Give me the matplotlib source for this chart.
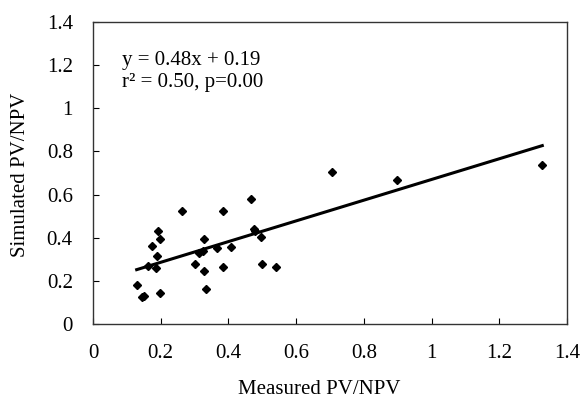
import matplotlib
matplotlib.use("Agg")
import matplotlib.pyplot as plt
import numpy as np

measured = [0.129, 0.144, 0.151, 0.161, 0.175, 0.185, 0.189, 0.191, 0.199, 0.198,
            0.263, 0.300, 0.312, 0.324, 0.328, 0.327, 0.333, 0.367, 0.385, 0.385,
            0.408, 0.467, 0.475, 0.478, 0.497, 0.498, 0.540, 0.705, 0.899, 1.327]
simulated = [0.181, 0.124, 0.131, 0.269, 0.363, 0.260, 0.315, 0.431, 0.396, 0.145,
             0.522, 0.277, 0.331, 0.340, 0.393, 0.246, 0.161, 0.354, 0.525, 0.263,
             0.356, 0.578, 0.439, 0.431, 0.402, 0.278, 0.264, 0.706, 0.666, 0.737]
slope, intercept = 0.48, 0.19
xticks = [0, 0.2, 0.4, 0.6, 0.8, 1, 1.2, 1.4]
xticklabels = ["0", "0.2", "0.4", "0.6", "0.8", "1", "1.2", "1.4"]
yticks = [0, 0.2, 0.4, 0.6, 0.8, 1, 1.2, 1.4]
yticklabels = ["0", "0.2", "0.4", "0.6", "0.8", "1", "1.2", "1.4"]

plt.rcParams['font.family'] = ['Liberation Serif', 'DejaVu Serif']
fs = 15

fig = plt.figure(figsize=(5.84, 4.03), dpi=100)
ax = fig.add_axes([93/584, 1-324/403, (567-93)/584, (324-22)/403])

ax.plot(measured, simulated, linestyle='none', marker='D', markersize=4.5,
        color='black', zorder=3)
xl = np.array([min(measured), max(measured)])
ax.plot(xl, slope*xl + intercept, color='black', linewidth=2.2, zorder=2)

ax.set_xlim(0, 1.4)
ax.set_ylim(0, 1.4)
ax.set_xticks(xticks)
ax.set_xticklabels(xticklabels)
ax.set_yticks(yticks)
ax.set_yticklabels(yticklabels)
ax.tick_params(direction='in', length=4, width=0.8, labelsize=fs,
               colors='black')
ax.tick_params(axis='x', pad=14.5)
ax.tick_params(axis='y', pad=14.5)
for s in ax.spines.values():
    s.set_linewidth(1.0)
    s.set_color('#333333')

ax.set_xlabel("Measured PV/NPV", fontsize=fs)
ax.set_ylabel("Simulated PV/NPV", fontsize=fs)
ax.xaxis.set_label_coords((319-93)/474, (324-390)/302)
ax.xaxis.label.set_va('center')
ax.yaxis.set_label_coords((20.5-93)/474, (324-175)/302)
ax.yaxis.label.set_va('center')

ax.text(0.0856, 1.2007, "y = 0.48x + 0.19", fontsize=fs, va='baseline', ha='left')
ax.text(0.0856, 1.099, "r\u00b2 = 0.50, p=0.00", fontsize=fs, va='baseline', ha='left')

fig.savefig("out.png", dpi=100)
